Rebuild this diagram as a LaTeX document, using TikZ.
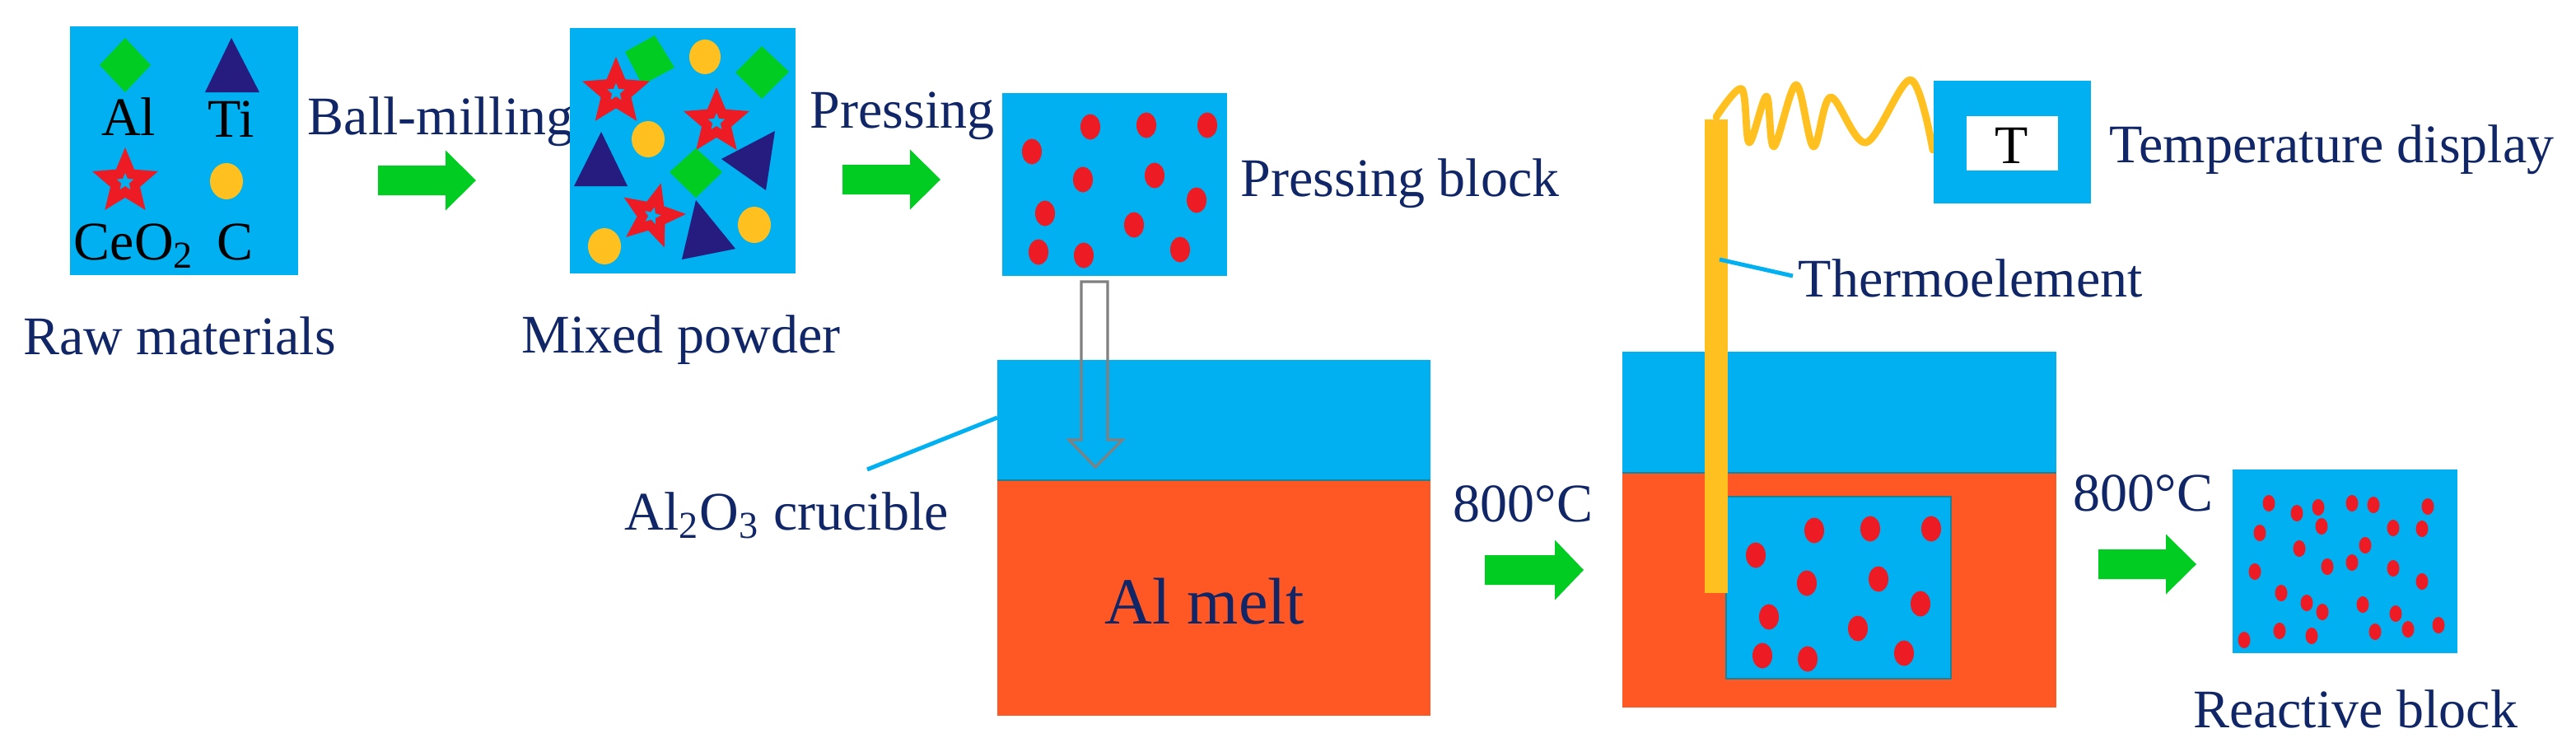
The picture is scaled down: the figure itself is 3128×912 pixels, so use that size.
\documentclass[tikz,border=0pt]{standalone}
\usepackage{fontspec}
\setmainfont{Liberation Serif}
\definecolor{cblue}{RGB}{0,176,240}
\definecolor{cgreen}{RGB}{0,204,34}
\definecolor{cnavy}{RGB}{38,28,128}
\definecolor{cred}{RGB}{237,28,36}
\definecolor{cyellow}{RGB}{255,192,32}
\definecolor{corange}{RGB}{255,88,36}
\definecolor{txtnavy}{RGB}{16,38,102}
\definecolor{cedge}{RGB}{30,130,150}
\newcommand{\mystar}[5]{% x y R rot color
  \fill[#5,shift={(#1,#2)},rotate=#4] (-90:#3) -- (-54:{0.45*#3}) -- (-18:#3) -- (18:{0.45*#3}) -- (54:#3) -- (90:{0.45*#3}) -- (126:#3) -- (162:{0.45*#3}) -- (198:#3) -- (234:{0.45*#3}) -- cycle;}
\newcommand{\redstar}[4]{% x y R rot
  \mystar{#1}{#2}{#3}{#4}{cred}
  \mystar{#1}{#2}{0.26*#3}{#4}{cblue}}
\newcommand{\greenarrow}[4]{% x0 x1 tip yc
  \fill[cgreen] (#1,#4-18) -- (#2,#4-18) -- (#2,#4-36.5) -- (#3,#4) -- (#2,#4+36.5) -- (#2,#4+18) -- (#1,#4+18) -- cycle;}
\newcommand{\blockdots}{%
  \foreach \px/\py in {1324/154,1392/152,1466/152,1253/184,1315/218,1402/213,1453/243,1269/259,1377/273,1261/306,1316/310,1433/303}
    {\fill[cred] (\px,\py) ellipse[x radius=12,y radius=15.5];}}
\begin{document}
\begin{tikzpicture}[x=0.25pt,y=-0.25pt,
  lbl/.style={text=txtnavy,font=\fontsize{16.5}{19.8}\selectfont,inner sep=0pt,anchor=base west},
  lblc/.style={lbl,anchor=base},
  blk/.style={text=black,font=\fontsize{16.5}{19.8}\selectfont,inner sep=0pt,anchor=base},
  leader/.style={draw=cblue,line width=1.25pt}]
\useasboundingbox (0,0) rectangle (3128,912);

% ---------- Raw materials box ----------
\fill[cblue] (85,32) rectangle (362,334);
\fill[cgreen] (152,46) -- (183,79) -- (152,112) -- (121,79) -- cycle;
\fill[cnavy] (281,46) -- (315,112) -- (249,112) -- cycle;
\node[blk] (al) at (156,164) {Al};
\node[blk] (ti) at (281,166) {Ti};
\redstar{152}{221}{42}{0}
\fill[cyellow] (275,220) ellipse[x radius=20,y radius=22];
\node[blk,anchor=base west] (ceo) at (89,315) {CeO\textsubscript{2}};
\node[blk] (c) at (286,315) {C};
\node[lblc] (raw) at (218,430) {Raw materials};

% arrow 1
\greenarrow{459}{541}{578}{219}
\node[lbl] (ball) at (373,163) {Ball-milling};

% ---------- Mixed powder box ----------
\fill[cblue] (692,34) rectangle (966,332);
\fill[cgreen] (759,63) -- (795,43) -- (819,82) -- (780,103) -- cycle;
\fill[cyellow] (856,69) ellipse[x radius=19,y radius=21];
\fill[cgreen] (893,88) -- (925,56) -- (958,87) -- (925,120) -- cycle;
\redstar{748}{112}{43}{0}
\fill[cyellow] (787,169) ellipse[x radius=20,y radius=22];
\redstar{870}{148}{42}{0}
\fill[cnavy] (730,160) -- (762,226) -- (697,226) -- cycle;
\fill[cgreen] (813,209) -- (845,180) -- (877,209) -- (845,240) -- cycle;
\fill[cnavy] (876,193) -- (941,159) -- (930,231) -- cycle;
\redstar{792}{262}{41}{-15}
\fill[cyellow] (734,299) ellipse[x radius=20,y radius=22];
\fill[cnavy] (845,243) -- (893,302) -- (828,315) -- cycle;
\fill[cyellow] (916,273) ellipse[x radius=20,y radius=22];
\node[lblc] (mixed) at (827,428) {Mixed powder};

% arrow 2
\greenarrow{1023}{1105}{1142}{218}
\node[lbl] (press) at (983,155) {Pressing};

% ---------- Pressing block ----------
\fill[cblue] (1217,113) rectangle (1490,335);
\blockdots
\node[lbl] (pblock) at (1506,238) {Pressing block};

% ---------- Left crucible ----------
\fill[cblue] (1211,437) rectangle (1737,583);
\fill[corange] (1211,583) rectangle (1737,869);
\draw[cedge,line width=0.5pt] (1211,583) -- (1737,583);
\node[lblc,font=\fontsize{20}{24}\selectfont] (melt) at (1463,757) {Al melt};
% hollow gray arrow
\draw[gray,line width=0.8pt,line join=miter] (1313,342) -- (1313,534) -- (1298,534) -- (1330,567) -- (1363,534) -- (1345,534) -- (1345,342) -- cycle;
% crucible label
\coordinate (cr1) at (1211,507);
\coordinate (cr2) at (1053,570);
\draw[leader] (cr1) -- (cr2);
\node[lbl] (crucible) at (758,643) {Al\textsubscript{2}O\textsubscript{3} crucible};

% arrow 3
\node[lbl] (t1) at (1764,633) {800°C};
\greenarrow{1803}{1888}{1923}{692}

% ---------- Right crucible ----------
\fill[cblue] (1970,427) rectangle (2497,574);
\fill[corange] (1970,574) rectangle (2497,859);
\draw[cedge,line width=0.5pt] (1970,574) -- (2497,574);
\fill[cblue,draw=cedge,line width=0.5pt] (2096,603) rectangle (2369,824);
\begin{scope}[shift={(879,490)}]
\blockdots
\end{scope}
% thermocouple rod and wire
\fill[cyellow] (2070,145) rectangle (2098,720);
\draw[cyellow,line width=2.2pt,line cap=round,line join=round] plot[smooth,tension=0.55] coordinates {(2084,142) (2115,108) (2124,173) (2145,117) (2154,178) (2181,103) (2202,178) (2223,118) (2266,173) (2320,97) (2347,182)};
\coordinate (th1) at (2088,315);
\coordinate (th2) at (2177,335);
\draw[leader] (th1) -- (th2);
\node[lbl] (thermo) at (2183,360) {Thermoelement};

% temperature display
\fill[cblue] (2348,98) rectangle (2539,247);
\fill[white] (2388,141) rectangle (2499,207);
\node[blk] (tT) at (2443,198) {T};
\node[lbl] (tdisp) at (2561,197) {Temperature display};

% arrow 4
\node[lbl] (t2) at (2517,620) {800°C};
\greenarrow{2548}{2630}{2667}{685}

% ---------- Reactive block ----------
\fill[cblue] (2711,570) rectangle (2984,793);
\foreach \px/\py in {2755/611,2789/623,2815/616,2856/611,2882/613,2948/615,2744/647,2819/639,2906/641,2941/642,2792/666,2872/662,2738/694,2826/688,2856/683,2906/690,2941/706,2770/720,2801/732,2820/743,2869/734,2909/745,2725/777,2768/766,2807/772,2884/767,2924/764,2961/759}
  {\fill[cred] (\px,\py) ellipse[x radius=7.5,y radius=10];}
\node[lblc] (react) at (2860,883) {Reactive block};
\end{tikzpicture}
\end{document}
